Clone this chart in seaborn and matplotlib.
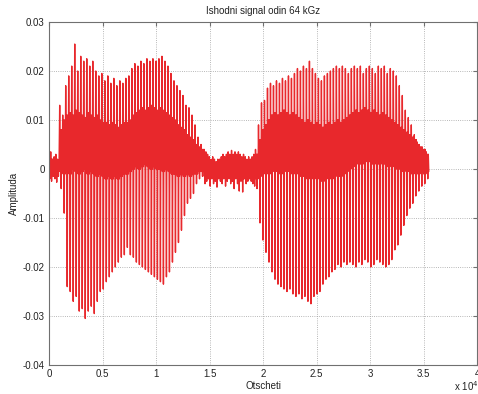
import numpy as np
import pandas as pd
import seaborn as sns
import matplotlib
matplotlib.use('Agg')
import matplotlib.pyplot as plt

sns.set_style('white')
plt.rcParams['font.family'] = ['Liberation Sans', 'DejaVu Sans']

# segment starts and pitch periods, in samples
lead_start, lead_step = 0, 160
v1_start, v1_step = 1000, 281
gap_start, gap_step = 14500, 160
v2_start, v2_step = 19300, 280

# quiet lead-in before the first vowel
lead_top = [0.003, 0.0035, 0.002, 0.0025, 0.003, 0.002]
lead_bot = [-0.002, -0.0025, -0.0015, -0.002, -0.0027, -0.0015]
lead_hi = [0.0015, 0.002, 0.001, 0.0015, 0.0015, 0.001]
lead_lo = [-0.001, -0.0005, -0.001, -0.0005, -0.001, -0.0005]

# first vowel: spike tops / bottoms per pitch period, plus the dense inner band
v1_top = [0.013, 0.011, 0.017, 0.019, 0.021, 0.0255, 0.020, 0.023, 0.022, 0.0225, 0.021, 0.022,
          0.020, 0.019, 0.0195, 0.018, 0.019, 0.0175, 0.0185, 0.017, 0.018, 0.0175, 0.0185, 0.019,
          0.0205, 0.0215, 0.021, 0.022, 0.0215, 0.0225, 0.022, 0.0225, 0.022, 0.0225, 0.023, 0.022,
          0.021, 0.0195, 0.018, 0.017, 0.016, 0.015, 0.013, 0.0125, 0.011, 0.009, 0.0065, 0.005]
v1_bot = [-0.004, -0.009, -0.024, -0.025, -0.027, -0.026, -0.029, -0.0285, -0.0305, -0.029, -0.028, -0.0295,
          -0.027, -0.025, -0.0245, -0.023, -0.022, -0.021, -0.020, -0.019, -0.018, -0.0175, -0.016, -0.0175,
          -0.018, -0.019, -0.0195, -0.020, -0.0205, -0.021, -0.0215, -0.022, -0.0225, -0.023, -0.0235, -0.022,
          -0.021, -0.019, -0.017, -0.015, -0.0125, -0.0095, -0.007, -0.006, -0.005, -0.003, -0.002, -0.0015]
v1_hi = [0.008, 0.010, 0.011, 0.0115, 0.011, 0.012, 0.0115, 0.011, 0.0105, 0.0115, 0.011, 0.0105, 0.011, 0.010,
         0.0095, 0.0095, 0.009, 0.0095, 0.009, 0.0085, 0.009, 0.0095, 0.0095, 0.010,
         0.011, 0.0115, 0.012, 0.0125, 0.012, 0.0125, 0.013, 0.0125, 0.012, 0.0125, 0.012, 0.0115,
         0.011, 0.0105, 0.010, 0.009, 0.0085, 0.008, 0.007, 0.0065, 0.006, 0.005, 0.0045, 0.004]
v1_lo = [0.0, -0.001, -0.0005, -0.001, 0.0, -0.0005, -0.001, -0.0005, 0.0, -0.001, -0.0005, -0.001, -0.0015, -0.001,
         -0.0015, -0.002, -0.0015, -0.002, -0.0015, -0.002, -0.0015, -0.001, -0.001, -0.0005,
         0.0, 0.0005, 0.0, 0.0005, 0.001, 0.0005, 0.0, 0.0005, 0.0, 0.0, -0.0005, 0.0,
         -0.0005, -0.001, -0.001, -0.0015, -0.001, -0.0015, -0.001, -0.0015, -0.001, -0.001, -0.0005, -0.0005]

# unvoiced stretch between the vowels
gap_top = [0.004, 0.0035, 0.003, 0.0025, 0.002, 0.0025, 0.002, 0.0015, 0.002, 0.002, 0.0025, 0.003, 0.0025, 0.003, 0.0035,
           0.003, 0.0038, 0.003, 0.0035, 0.003, 0.0035, 0.003, 0.0025, 0.003, 0.0025, 0.002, 0.0025, 0.002, 0.0025, 0.003]
gap_bot = [-0.003, -0.0025, -0.002, -0.0035, -0.002, -0.003, -0.0025, -0.0037, -0.002, -0.0025, -0.003, -0.002, -0.0035, -0.0025, -0.002,
           -0.003, -0.0025, -0.004, -0.002, -0.003, -0.0045, -0.0025, -0.0047, -0.002, -0.003, -0.0025, -0.002, -0.0025, -0.003, -0.0035]
gap_hi = [0.002, 0.002, 0.0015, 0.0015, 0.001, 0.0015, 0.001, 0.001, 0.0015, 0.0015, 0.0015, 0.002, 0.0015, 0.002, 0.0025,
          0.002, 0.0025, 0.002, 0.0025, 0.002, 0.002, 0.002, 0.0015, 0.002, 0.0015, 0.0015, 0.0015, 0.001, 0.0015, 0.002]
gap_lo = [-0.0015, -0.001, -0.001, -0.0015, -0.001, -0.0015, -0.001, -0.0015, -0.001, -0.001, -0.0015, -0.001, -0.0015, -0.001, -0.0005,
          -0.001, -0.0005, -0.0015, -0.001, -0.001, -0.002, -0.001, -0.002, -0.001, -0.0015, -0.001, -0.001, -0.001, -0.0015, -0.0015]

# second vowel
v2_top = [0.004, 0.009, 0.0135, 0.014, 0.0165, 0.0175, 0.017, 0.018, 0.0175, 0.0185, 0.018, 0.019, 0.0185, 0.0195, 0.0205,
          0.020, 0.021, 0.0205, 0.022, 0.0205, 0.0195, 0.0185, 0.018, 0.019, 0.0195, 0.020, 0.0205, 0.021, 0.0205, 0.021,
          0.0205, 0.0195, 0.0205, 0.021, 0.0205, 0.021, 0.0195, 0.0205, 0.021, 0.0205, 0.0195, 0.021, 0.0205, 0.021, 0.0195,
          0.0205, 0.020, 0.019, 0.017, 0.015, 0.012, 0.0105, 0.009, 0.007, 0.0055, 0.0045, 0.004, 0.0035]
v2_bot = [-0.004, -0.011, -0.0145, -0.017, -0.019, -0.021, -0.0225, -0.0235, -0.024, -0.0245, -0.025, -0.0245, -0.0255, -0.026, -0.0255,
          -0.0265, -0.026, -0.027, -0.0275, -0.026, -0.0255, -0.025, -0.0235, -0.0225, -0.022, -0.021, -0.0205, -0.0195, -0.020, -0.019,
          -0.0195, -0.019, -0.0195, -0.020, -0.019, -0.0195, -0.0185, -0.019, -0.020, -0.0195, -0.0185, -0.019, -0.0195, -0.020, -0.0195,
          -0.0185, -0.0165, -0.0155, -0.0135, -0.0115, -0.0095, -0.008, -0.007, -0.0055, -0.0045, -0.0035, -0.003, -0.002]
v2_hi = [0.003, 0.006, 0.008, 0.009, 0.010, 0.011, 0.0115, 0.011, 0.0115, 0.012, 0.0115, 0.011, 0.0115, 0.011, 0.0105, 0.010,
         0.0095, 0.010, 0.0095, 0.009, 0.0095, 0.009, 0.0085, 0.009, 0.0095, 0.009, 0.0095, 0.010, 0.0095, 0.010, 0.0105, 0.011,
         0.0115, 0.012, 0.0115, 0.012, 0.0125, 0.012, 0.0115, 0.012, 0.0115, 0.011, 0.0115, 0.011, 0.0105, 0.010, 0.0095, 0.009, 0.0085,
         0.008, 0.0075, 0.007, 0.0065, 0.006, 0.005, 0.0045, 0.004, 0.003]
v2_lo = [-0.002, -0.0015, -0.001, -0.0005, -0.001, -0.0005, 0.0, -0.0005, -0.001, -0.0005, 0.0, -0.0005, -0.001, -0.0005, -0.001, -0.0015,
         -0.0015, -0.002, -0.0015, -0.002, -0.0015, -0.002, -0.0025, -0.002, -0.0015, -0.002, -0.0015, -0.001, -0.0015, -0.001, -0.0005, 0.0,
         0.0005, 0.001, 0.0015, 0.001, 0.0015, 0.002, 0.0015, 0.001, 0.0015, 0.001, 0.0015, 0.001, 0.0005, 0.001, 0.0005, 0.0, 0.0,
         -0.0005, 0.0, -0.0005, -0.001, -0.0005, -0.001, -0.0005, -0.001, -0.0005]

x_ticks = [0, 5000, 10000, 15000, 20000, 25000, 30000, 35000, 40000]
x_labels = ['0', '0.5', '1', '1.5', '2', '2.5', '3', '3.5', '4']
y_ticks = [-0.04, -0.03, -0.02, -0.01, 0, 0.01, 0.02, 0.03]
y_labels = ['-0.04', '-0.03', '-0.02', '-0.01', '0', '0.01', '0.02', '0.03']


def segment(start, step, top, bot, hi, lo):
    # one period: spike up, spike down, a bit of ripple in the inner band
    vals = []
    for a, b, h, l in zip(top, bot, hi, lo):
        vals += [a, l, h, b, h, l]
    vals = np.array(vals)
    return start + np.arange(len(vals)) * step / 6, vals


parts = [
    segment(lead_start, lead_step, lead_top, lead_bot, lead_hi, lead_lo),
    segment(v1_start, v1_step, v1_top, v1_bot, v1_hi, v1_lo),
    segment(gap_start, gap_step, gap_top, gap_bot, gap_hi, gap_lo),
    segment(v2_start, v2_step, v2_top, v2_bot, v2_hi, v2_lo),
]
df = pd.DataFrame({
    'sample': np.concatenate([p[0] for p in parts]),
    'amp': np.concatenate([p[1] for p in parts]),
})

fig = plt.figure(figsize=(4.78, 3.94), dpi=100)
ax = fig.add_axes([49 / 478, 29 / 394, 428 / 478, 343 / 394])
sns.lineplot(data=df, x='sample', y='amp', estimator=None, sort=False,
             color='#e8282c', linewidth=1.0, ax=ax)

ax.set_xlim(0, 40000)
ax.set_ylim(-0.04, 0.03)
ax.set_xticks(x_ticks)
ax.set_xticklabels(x_labels)
ax.set_yticks(y_ticks)
ax.set_yticklabels(y_labels)
ax.grid(True, linestyle=':', color='#a0a0a0', linewidth=0.6)
for s in ax.spines.values():
    s.set_color('#707070')
    s.set_linewidth(0.8)
ax.tick_params(direction='in', length=3, top=True, right=True, color='#707070',
               labelsize=7, labelcolor='#222222', pad=3)

ax.set_title('Ishodni signal odin 64 kGz', fontsize=7, color='#222222', pad=6)
ax.set_xlabel('Otscheti', fontsize=7, color='#222222', labelpad=1)
ax.set_ylabel('Amplituda', fontsize=7, color='#222222', labelpad=3)
ax.text(1.003, -0.042, r'x 10$^4$', transform=ax.transAxes, ha='right', va='top',
        fontsize=7, color='#222222')

fig.savefig('out.png', dpi=100)
